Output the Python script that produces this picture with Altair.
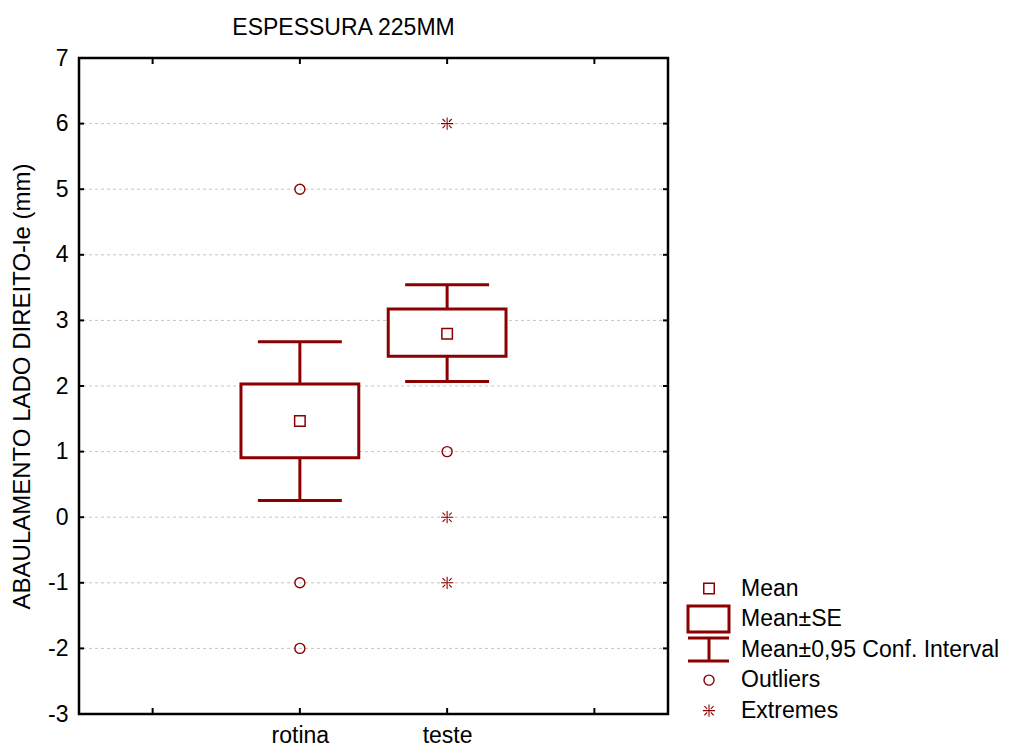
import altair as alt
import pandas as pd

# ---------------- data ----------------
categories = ["rotina", "teste"]
means = [1.465, 2.795]
se_low = [0.905, 2.455]
se_high = [2.03, 3.175]
ci_low = [0.255, 2.07]
ci_high = [2.675, 3.545]

outlier_groups = ["rotina", "rotina", "rotina", "teste"]
outlier_values = [5, -1, -2, 1]
extreme_groups = ["teste", "teste", "teste"]
extreme_values = [6, 0, -1]

y_tick_values = [-3, -2, -1, 0, 1, 2, 3, 4, 5, 6, 7]
grid_values = [-2, -1, 0, 1, 2, 3, 4, 5, 6]
x_tick_positions = [0.5, 1.5, 2.5, 3.5]

legend_labels = ["Mean", "Mean±SE", "Mean±0,95 Conf. Interval", "Outliers", "Extremes"]

title_text = "ESPESSURA 225MM"
y_title = "ABAULAMENTO LADO DIREITO-le (mm)"

# ---------------- styling ----------------
FONT = "Liberation Sans"
DARK = "#8B0000"
W, H = 589, 656
LW = 330
BOX_HALF = 0.40
CAP_HALF = 0.285
ASTER = "M0,-1L0,1M-1,0L1,0M-0.75,-0.75L-0.3,-0.3M0.3,0.3L0.75,0.75M-0.75,0.75L-0.3,0.3M0.3,-0.3L0.75,-0.75"

pos_of = {c: i + 1.5 for i, c in enumerate(categories)}

stats = pd.DataFrame({
    "cat": categories,
    "mean": means,
    "se_low": se_low,
    "se_high": se_high,
    "ci_low": ci_low,
    "ci_high": ci_high,
})
stats["pos"] = [pos_of[c] for c in categories]

outl = pd.DataFrame({"cat": outlier_groups, "v": outlier_values})
outl["pos"] = [pos_of[c] for c in outlier_groups]
extr = pd.DataFrame({"cat": extreme_groups, "v": extreme_values})
extr["pos"] = [pos_of[c] for c in extreme_groups]

ticks_y = pd.DataFrame({"v": y_tick_values})
grid_df = pd.DataFrame({"v": grid_values})
ticks_x = pd.DataFrame({"p": x_tick_positions})

xs = alt.Scale(domain=[0, 4], nice=False, zero=False)
ys = alt.Scale(domain=[-3, 7], nice=False, zero=False)

label_expr = " : ".join(
    [f"datum.value == {pos_of[c]} ? '{c}'" for c in categories]
) + " : ''"

x_axis = alt.Axis(values=[pos_of[c] for c in categories], labelExpr=label_expr,
                  ticks=False, domain=False, grid=False, title=None,
                  labelFontSize=23, labelPadding=10, labelColor="black",
                  labelFont=FONT)
y_axis = alt.Axis(values=y_tick_values, labelExpr="'' + datum.value",
                  ticks=False, domain=False, grid=False, title=y_title,
                  titleFontSize=24, titleFontWeight="normal", titleColor="black",
                  titleFont=FONT, titlePadding=13,
                  labelFontSize=23, labelPadding=11, labelColor="black",
                  labelFont=FONT)

X = lambda f: alt.X(f, type="quantitative", scale=xs, axis=x_axis)
Y = lambda f: alt.Y(f, type="quantitative", scale=ys, axis=y_axis)

grid = alt.Chart(grid_df).mark_rule(color="#c4c4c4", strokeDash=[3, 3], strokeWidth=1).encode(
    y=Y("v"))

tick_left = alt.Chart(ticks_y).mark_rule(color="black", strokeWidth=2).encode(
    y=Y("v"), x=alt.value(0), x2=alt.value(5))
tick_right = alt.Chart(ticks_y).mark_rule(color="black", strokeWidth=2).encode(
    y=Y("v"), x=alt.value(W - 5), x2=alt.value(W))
tick_top = alt.Chart(ticks_x).mark_rule(color="black", strokeWidth=2).encode(
    x=X("p"), y=alt.value(0), y2=alt.value(6))
tick_bottom = alt.Chart(ticks_x).mark_rule(color="black", strokeWidth=2).encode(
    x=X("p"), y=alt.value(H - 6), y2=alt.value(H))

base = alt.Chart(stats)

whisker = base.mark_rule(color=DARK, strokeWidth=3).encode(
    x=X("pos"), y=Y("ci_low"), y2="ci_high")

caps = base.transform_fold(["ci_low", "ci_high"], as_=["k", "val"]).transform_calculate(
    xl=f"datum.pos - {CAP_HALF}", xr=f"datum.pos + {CAP_HALF}"
).mark_rule(color=DARK, strokeWidth=3).encode(
    x=X("xl"), x2="xr", y=Y("val"))

box = base.transform_calculate(
    bl=f"datum.pos - {BOX_HALF}", br=f"datum.pos + {BOX_HALF}"
).mark_rect(fill="white", stroke=DARK, strokeWidth=3).encode(
    x=X("bl"), x2="br", y=Y("se_low"), y2="se_high")

mean_pt = base.mark_point(shape="square", size=110, filled=False, color=DARK,
                          strokeWidth=1.5, opacity=1).encode(
    x=X("pos"), y=Y("mean"))

outlier_pts = alt.Chart(outl).mark_point(shape="circle", size=100, filled=False,
                                         color=DARK, strokeWidth=1.4, opacity=1).encode(
    x=X("pos"), y=Y("v"))

extreme_pts = alt.Chart(extr).mark_point(shape=ASTER, size=150, filled=False,
                                         color=DARK, strokeWidth=1.1, opacity=1).encode(
    x=X("pos"), y=Y("v"))

main = alt.layer(
    grid, whisker, caps, box, mean_pt, outlier_pts, extreme_pts,
    tick_left, tick_right, tick_top, tick_bottom,
).properties(
    width=W, height=H,
    title=alt.TitleParams(title_text, fontSize=23, fontWeight="normal", font=FONT,
                          color="black", anchor="middle", frame="group", dx=-30,
                          offset=7),
    view=alt.ViewBackground(stroke="black", strokeWidth=2.5),
)

# ---------------- legend panel ----------------
leg = pd.DataFrame({"label": legend_labels, "row": list(range(len(legend_labels)))})
ly = alt.Scale(domain=[-17.39, 4.11], reverse=True, nice=False, zero=False)
LY = lambda f: alt.Y(f, type="quantitative", scale=ly, axis=None)
lbase = alt.Chart(leg)

leg_text = lbase.mark_text(align="left", baseline="middle", fontSize=23, font=FONT,
                           color="black").encode(
    x=alt.value(70), y=LY("row"), text="label:N")

leg_mean = lbase.transform_filter("datum.row == 0").mark_point(
    shape="square", size=110, filled=False, color=DARK, strokeWidth=1.5, opacity=1).encode(
    x=alt.value(38), y=LY("row"))

leg_box = lbase.transform_filter("datum.row == 1").transform_calculate(
    r0="datum.row - 0.426", r1="datum.row + 0.426"
).mark_rect(fill="white", stroke=DARK, strokeWidth=3).encode(
    x=alt.value(17), x2=alt.value(58), y=LY("r0"), y2="r1")

leg_ci_v = lbase.transform_filter("datum.row == 2").transform_calculate(
    r0="datum.row - 0.377", r1="datum.row + 0.377"
).mark_rule(color=DARK, strokeWidth=3).encode(
    x=alt.value(38), y=LY("r0"), y2="r1")

leg_ci_caps = lbase.transform_filter("datum.row == 2").transform_calculate(
    r0="datum.row - 0.377", r1="datum.row + 0.377"
).transform_fold(["r0", "r1"], as_=["k", "rv"]).mark_rule(color=DARK, strokeWidth=3).encode(
    x=alt.value(17), x2=alt.value(58), y=LY("rv"))

leg_out = lbase.transform_filter("datum.row == 3").mark_point(
    shape="circle", size=100, filled=False, color=DARK, strokeWidth=1.4, opacity=1).encode(
    x=alt.value(38), y=LY("row"))

leg_ext = lbase.transform_filter("datum.row == 4").mark_point(
    shape=ASTER, size=150, filled=False, color=DARK, strokeWidth=1.1, opacity=1).encode(
    x=alt.value(38), y=LY("row"))

legend = alt.layer(
    leg_box, leg_ci_v, leg_ci_caps, leg_mean, leg_out, leg_ext, leg_text
).properties(
    width=LW, height=H,
    view=alt.ViewBackground(strokeOpacity=0, strokeWidth=0),
)

chart = alt.hconcat(main, legend, spacing=0).configure(
    font=FONT,
    padding={"left": 1, "top": 7, "right": 0, "bottom": 0},
).configure_view(strokeWidth=0)

chart.save("out.html", embed_options={"renderer": "svg", "actions": False})
